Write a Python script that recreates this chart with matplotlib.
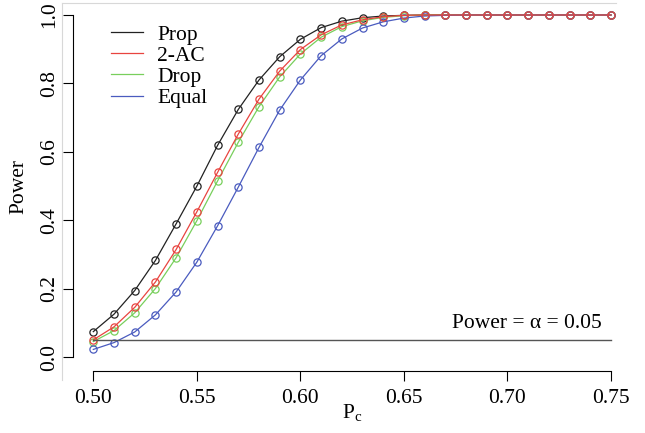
import numpy as np
import matplotlib.pyplot as plt
from matplotlib.lines import Line2D

pc = np.round(np.arange(0.50, 0.7501, 0.01), 2)

ones = [1.0] * 10
prop = [0.075, 0.126, 0.195, 0.283, 0.390, 0.500, 0.619, 0.724, 0.810, 0.878,
        0.929, 0.963, 0.982, 0.992, 0.997, 0.999] + ones
two_ac = [0.051, 0.089, 0.146, 0.220, 0.315, 0.425, 0.540, 0.652, 0.754, 0.836,
          0.899, 0.942, 0.971, 0.986, 0.995, 0.999] + ones
drop = [0.046, 0.078, 0.130, 0.201, 0.291, 0.399, 0.515, 0.628, 0.732, 0.819,
        0.886, 0.935, 0.966, 0.983, 0.993, 0.998] + ones
equal = [0.023, 0.043, 0.074, 0.124, 0.191, 0.278, 0.384, 0.497, 0.613, 0.722,
         0.810, 0.881, 0.930, 0.962, 0.980, 0.991, 0.997, 0.999] + [1.0] * 8

series = [('Prop', prop, '#222222'),
          ('2-AC', two_ac, '#e8443f'),
          ('Drop', drop, '#78cf5c'),
          ('Equal', equal, '#4a5bbf')]

alpha_level = 0.05

plt.rcParams['font.family'] = ['Liberation Serif', 'DejaVu Serif']
fs = 15.5

fig = plt.figure(figsize=(6.45, 4.33), dpi=100)
W, H = 645, 433
ax = fig.add_axes([72.6 / W, (H - 371) / H, (631.7 - 72.6) / W, (371 - 1.3) / H])

# faint frame left over from the source page
fig.add_artist(Line2D([62 / W, 616 / W], [(H - 3) / H, (H - 3) / H], color='#d8d8d8', lw=0.8))
fig.add_artist(Line2D([62 / W, 62 / W], [(H - 3) / H, (H - 380) / H], color='#d8d8d8', lw=0.8))

# draw red last so it sits on top at the plateau
for name, vals, col in [series[0], series[2], series[3], series[1]]:
    ax.plot(pc, vals, color=col, lw=0.9, marker='o', ms=5.2, mfc='none', mec=col, mew=0.9)

ax.plot([0.50, 0.75], [alpha_level, alpha_level], color='#555555', lw=1.0)
ax.text(0.7455, alpha_level + 0.02, 'Power = α = 0.05', ha='right', va='bottom', fontsize=fs)

ax.set_xlim(0.49, 0.76)
ax.set_ylim(-0.04, 1.04)
for s in ['top', 'right']:
    ax.spines[s].set_visible(False)
ax.spines['left'].set_bounds(0, 1)
ax.spines['bottom'].set_bounds(0.5, 0.75)
ax.set_xticks(np.arange(0.50, 0.751, 0.05))
ax.set_xticklabels(['0.50', '0.55', '0.60', '0.65', '0.70', '0.75'])
ax.set_yticks(np.arange(0, 1.01, 0.2))
ax.set_yticklabels(['0.0', '0.2', '0.4', '0.6', '0.8', '1.0'], rotation=90, va='center')
ax.tick_params(direction='out', length=7, width=0.8, labelsize=fs, pad=3)
ax.tick_params(axis='x', pad=6)

ax.set_xlabel(r'P$_\mathregular{c}$', fontsize=fs, labelpad=-4)
ax.set_ylabel('Power', fontsize=fs, labelpad=8)

handles = [Line2D([0], [0], color=c, lw=0.9) for _, _, c in series]
ax.legend(handles, [n for n, _, _ in series], loc='upper left', bbox_to_anchor=(0.045, 0.972),
          frameon=False, fontsize=fs, handlelength=1.5, handletextpad=0.65, labelspacing=0.05,
          borderaxespad=0.2)

fig.savefig('out.png', dpi=100)
